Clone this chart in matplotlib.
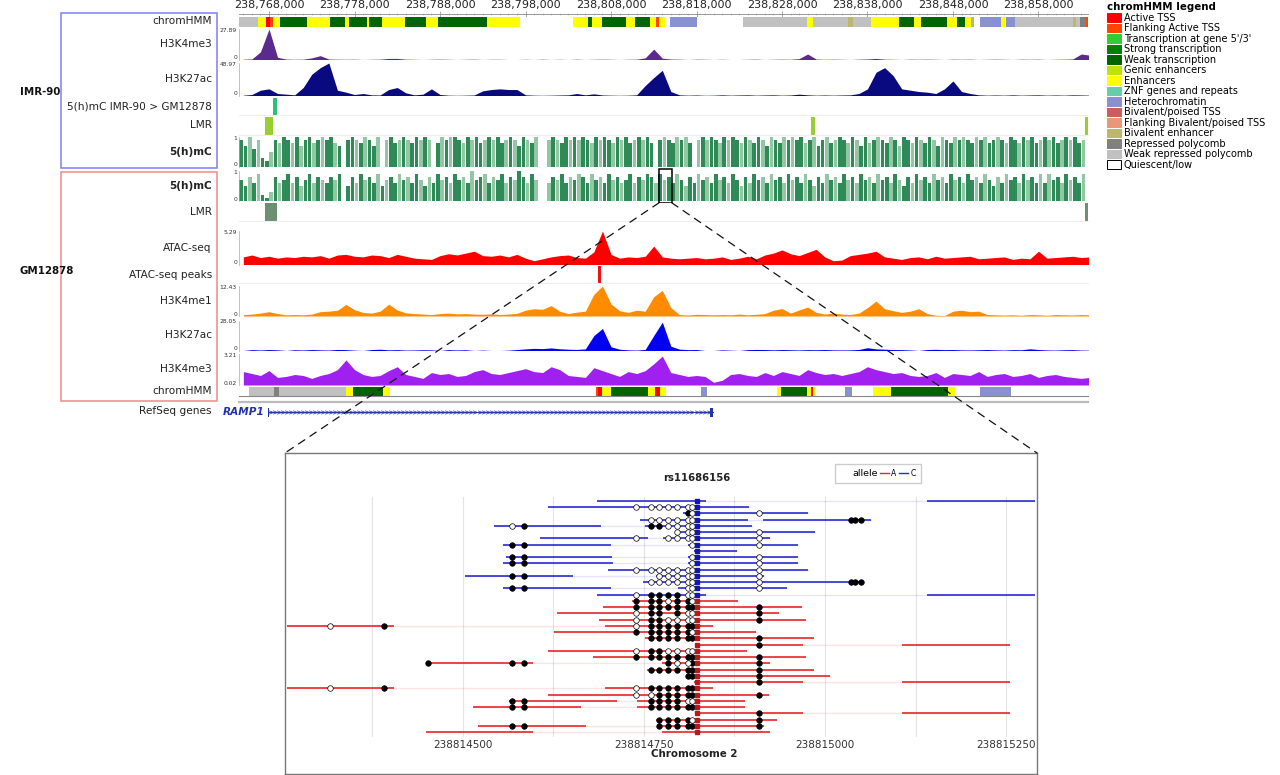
import numpy as np
import matplotlib.pyplot as plt
from matplotlib.patches import Rectangle, Patch, ConnectionPatch
from matplotlib.lines import Line2D
from matplotlib.ticker import FixedLocator, MultipleLocator, FuncFormatter

plt.rcParams['font.family'] = ['DejaVu Sans']

# ---------------- browser region (kb, chr2) ----------------
region = (238764.49, 238863.79)
ruler_ticks = [238768, 238778, 238788, 238798, 238808, 238818, 238828, 238838, 238848, 238858]
zoom_region = (238813.62, 238815.10)

sig_start, sig_step = 238765.0, 1.0      # 1 kb bins for coverage tracks
mc_start, mc_step = 238764.75, 0.5       # 0.5 kb bins for 5(h)mC

imr_k4me3 = [0.3, 0.5, 7.0, 27.89, 2.0, 0.4, 0.2, 0.3, 1.5, 3.5,
             0.4, 0.3, 0.2, 0.3, 0.0, 0.2, 0.3, 1.0, 1.0, 0.3,
             0.2, 0.0, 0.2, 0.3, 0.2, 0.0, 0.2, 0.3, 0.0, 0.2,
             0.2, 0.0, 0.0, 0.2, 0.0, 0.3, 0.0, 0.2, 0.0, 0.3,
             0.0, 0.2, 0.3, 0.2, 0.0, 0.2, 0.3, 1.5, 9.5, 1.2,
             0.4, 0.3, 0.0, 0.3, 0.2, 0.0, 0.2, 0.0, 0.0, 0.2,
             0.3, 0.0, 0.2, 0.3, 0.2, 0.8, 5.0, 0.4, 0.2, 0.3,
             0.2, 0.0, 0.3, 0.5, 1.0, 0.3, 0.2, 0.0, 0.3, 0.2,
             0.3, 0.2, 0.0, 0.3, 0.2, 0.3, 0.0, 0.2, 0.3, 0.2,
             0.0, 0.3, 0.2, 0.3, 0.0, 0.2, 0.3, 0.5, 5.0, 4.0]

imr_k27ac = [0.5, 1.5, 8.0, 10.0, 3.0, 2.0, 1.0, 12.0, 32.0, 42.0,
             48.97, 8.0, 5.0, 1.5, 3.0, 1.0, 0.8, 9.0, 12.0, 4.0,
             1.0, 2.0, 10.0, 1.5, 0.5, 0.3, 0.5, 0.8, 7.0, 9.0,
             10.0, 9.0, 9.0, 1.0, 0.5, 0.3, 0.5, 0.8, 1.0, 3.0,
             1.0, 2.5, 0.8, 0.5, 0.3, 0.5, 1.0, 15.0, 27.0, 38.0,
             6.0, 1.0, 0.5, 0.8, 0.3, 0.5, 1.0, 0.5, 0.8, 1.0,
             0.5, 0.8, 1.0, 0.5, 0.8, 2.0, 1.0, 0.5, 0.8, 0.5,
             0.8, 1.0, 3.0, 10.0, 35.0, 42.0, 30.0, 10.0, 8.0, 6.0,
             5.0, 3.0, 10.0, 22.0, 6.0, 3.0, 1.0, 0.5, 0.8, 0.5,
             1.0, 0.5, 0.8, 1.0, 0.5, 0.8, 0.5, 1.0, 0.8, 0.5]

gm_atac = [1.2, 1.5, 1.1, 1.3, 1.0, 1.2, 1.1, 1.3, 1.2, 1.4,
           1.0, 1.5, 1.6, 1.3, 1.2, 1.5, 1.4, 1.1, 1.6, 1.3,
           1.0, 0.9, 0.8, 1.4, 1.7, 1.5, 1.8, 2.1, 1.4, 1.3,
           1.5, 1.2, 1.6, 1.0, 0.6, 0.9, 1.2, 1.4, 1.5, 1.1,
           1.0, 2.0, 5.29, 1.6, 1.0, 1.2, 1.1, 1.3, 2.9, 1.2,
           1.0, 0.9, 1.0, 1.1, 0.9, 1.0, 1.2, 0.8, 1.0, 1.3,
           0.9, 1.5, 1.8, 2.3, 1.7, 1.4, 1.9, 2.4, 1.2, 0.6,
           0.7, 1.4, 1.6, 1.8, 2.1, 1.2, 1.0, 0.8, 1.1, 1.2,
           0.9, 1.3, 1.0, 1.1, 1.2, 1.3, 0.9, 1.0, 1.1, 1.2,
           0.8, 1.0, 0.9, 2.1, 1.0, 1.1, 1.2, 1.3, 1.1, 1.2]

gm_k4me1 = [0.6, 0.8, 1.2, 1.8, 1.0, 0.5, 0.6, 0.5, 0.8, 1.8,
            2.0, 2.4, 4.8, 2.6, 1.5, 1.2, 2.0, 4.9, 2.5, 1.3,
            1.0, 0.8, 0.6, 1.0, 1.2, 0.9, 1.0, 0.8, 0.7, 0.9,
            0.6, 0.8, 1.1, 2.4, 3.0, 2.8, 4.3, 2.0, 1.0, 1.6,
            2.0, 9.0, 12.43, 5.0, 2.2, 1.5, 2.4, 2.0, 8.0, 10.6,
            3.5, 0.6, 0.4, 0.7, 0.6, 0.5, 0.6, 0.5, 0.8, 0.5,
            0.7, 1.0, 2.4, 3.1, 1.2, 2.5, 3.7, 1.5, 0.8, 1.2,
            0.8, 0.6, 1.2, 3.5, 6.2, 3.0, 2.2, 1.5, 2.0, 3.0,
            1.0, 0.3, 0.2, 2.0, 2.4, 1.8, 2.0, 0.6, 0.5, 0.4,
            0.5, 0.3, 0.6, 0.5, 0.3, 0.6, 0.5, 0.4, 0.6, 0.5]

gm_k27ac = [0.0, 0.8, 0.5, 0.9, 0.6, 0.0, 0.7, 0.5, 0.9, 0.6,
            0.4, 1.0, 0.8, 0.3, 0.0, 0.9, 1.2, 0.6, 0.8, 0.4,
            0.5, 0.7, 0.6, 0.0, 0.8, 0.5, 0.7, 0.0, 0.4, 0.0,
            0.0, 0.3, 0.9, 1.5, 2.0, 1.8, 2.4, 1.6, 1.2, 1.0,
            1.5, 14.0, 20.6, 3.5, 1.2, 0.6, 0.4, 1.0, 14.0, 26.5,
            4.0, 1.3, 0.8, 0.9, 0.0, 0.0, 0.6, 0.3, 0.0, 0.8,
            1.0, 0.9, 0.6, 0.9, 0.7, 0.5, 0.8, 0.7, 0.9, 0.6,
            0.5, 0.6, 1.0, 2.6, 1.5, 1.2, 0.9, 0.8, 0.5, 0.0,
            0.9, 1.1, 0.8, 0.9, 0.6, 0.5, 0.7, 0.9, 0.6, 0.4,
            0.8, 0.7, 1.6, 0.9, 0.5, 0.4, 0.7, 0.8, 0.4, 0.3]

gm_k4me3 = [1.4, 1.2, 1.0, 1.5, 0.8, 0.9, 1.1, 1.0, 0.7, 1.0,
            1.2, 1.6, 2.6, 1.6, 1.1, 0.9, 1.0, 1.5, 1.9, 1.1,
            0.9, 0.7, 1.3, 1.1, 1.2, 0.9, 1.0, 1.4, 1.6, 1.2,
            1.1, 1.3, 1.5, 1.7, 1.4, 1.3, 1.9, 1.6, 1.0, 0.9,
            0.8, 1.8, 1.5, 1.2, 0.9, 1.4, 1.2, 1.5, 2.2, 3.0,
            1.3, 1.1, 0.9, 1.0, 0.9, 0.3, 0.5, 1.1, 1.2, 1.0,
            0.9, 1.3, 1.0, 1.4, 1.2, 1.0, 1.6, 1.3, 1.1, 1.2,
            1.0, 1.2, 1.4, 1.9, 1.6, 1.4, 1.2, 1.3, 1.0, 0.9,
            1.0, 1.3, 0.8, 1.2, 1.1, 1.0, 1.4, 0.9, 1.1, 1.2,
            0.9, 1.0, 1.2, 0.8, 1.0, 1.1, 0.9, 0.8, 0.7, 0.8]

# methylation level in tenths
imr_mc = [9, 7, 10, 6, 9, 3, 2, 5, 9, 8, 10, 9, 8, 10, 7, 9, 10, 8, 9, 10,
          9, 10, 8, 7, 0, 9, 10, 9, 8, 10, 9, 7, 10, 0, 9, 10, 8, 9, 10, 9,
          8, 10, 9, 10, 9, 0, 8, 10, 9, 10, 10, 9, 8, 10, 9, 10, 8, 9, 10, 9,
          10, 8, 9, 10, 9, 7, 10, 9, 8, 10, 0, 0, 9, 10, 9, 8, 10, 9, 10, 9,
          10, 9, 8, 10, 9, 10, 9, 8, 10, 9, 10, 8, 9, 10, 9, 10, 8, 0, 9, 10,
          9, 8, 10, 9, 10, 8, 0, 9, 10, 9, 10, 9, 8, 10, 9, 10, 9, 8, 10, 9,
          8, 10, 9, 7, 10, 9, 8, 10, 9, 10, 9, 10, 8, 9, 10, 7, 9, 10, 8, 9,
          10, 9, 8, 10, 9, 7, 10, 8, 9, 10, 9, 8, 10, 9, 7, 10, 9, 8, 10, 9,
          8, 10, 9, 7, 10, 9, 8, 10, 9, 10, 9, 8, 10, 9, 10, 8, 9, 10, 9, 8,
          10, 9, 8, 10, 9, 10, 8, 9, 10, 9, 10, 8, 9, 10, 9, 10, 8, 9]
gm_mc = [7, 5, 8, 6, 9, 2, 1, 3, 8, 6, 7, 9, 6, 8, 5, 7, 9, 6, 8, 7,
         6, 8, 7, 9, 0, 5, 8, 6, 9, 7, 8, 6, 9, 5, 7, 8, 6, 9, 7, 8,
         6, 9, 7, 5, 8, 6, 9, 7, 8, 6, 9, 7, 8, 6, 10, 7, 8, 9, 6, 8,
         7, 9, 6, 8, 7, 10, 8, 6, 9, 7, 0, 0, 6, 8, 7, 9, 6, 8, 7, 9,
         8, 6, 9, 7, 8, 6, 9, 7, 8, 6, 7, 9, 6, 8, 7, 9, 8, 6, 9, 7,
         8, 6, 9, 7, 5, 8, 6, 9, 7, 8, 6, 9, 7, 8, 6, 9, 7, 5, 8, 6,
         9, 7, 8, 6, 9, 7, 8, 6, 9, 7, 8, 6, 9, 7, 5, 8, 6, 9, 7, 8,
         6, 9, 7, 8, 6, 9, 7, 8, 6, 9, 7, 8, 6, 9, 7, 5, 8, 6, 9, 7,
         8, 6, 9, 7, 8, 6, 9, 7, 8, 6, 9, 7, 8, 6, 9, 7, 5, 8, 6, 9,
         7, 8, 6, 9, 7, 8, 6, 9, 6, 9, 7, 8, 6, 9, 7, 8, 6, 9]

imr_hmm = [(238764.49, 238766.71, 'ReprPCWk'), (238766.71, 238767.65, 'Enh'), (238767.65, 238768.12, 'TssA'),
           (238768.12, 238768.47, 'TssFlnk'), (238768.47, 238769.29, 'Enh'), (238769.29, 238772.44, 'TxWk'),
           (238772.44, 238775.13, 'Enh'), (238775.13, 238776.89, 'TxWk'), (238776.89, 238777.36, 'Enh'),
           (238777.36, 238779.46, 'TxWk'), (238779.46, 238779.70, 'Enh'), (238779.70, 238781.22, 'TxWk'),
           (238781.22, 238783.91, 'Enh'), (238783.91, 238786.36, 'TxWk'), (238786.36, 238787.77, 'Enh'),
           (238787.77, 238793.50, 'TxWk'), (238793.50, 238797.36, 'Enh'), (238803.56, 238805.31, 'Enh'),
           (238805.31, 238805.78, 'TxWk'), (238805.78, 238806.95, 'Enh'), (238806.95, 238809.75, 'TxWk'),
           (238809.75, 238810.81, 'Enh'), (238810.81, 238812.56, 'TxWk'), (238812.56, 238813.26, 'Enh'),
           (238813.26, 238813.61, 'TssFlnk'), (238813.61, 238814.32, 'Enh'), (238814.90, 238818.06, 'Het'),
           (238823.44, 238830.92, 'ReprPCWk'), (238830.92, 238831.63, 'Enh'), (238831.63, 238835.72, 'ReprPCWk'),
           (238835.72, 238836.30, 'EnhBiv'), (238836.30, 238838.41, 'ReprPCWk'), (238838.41, 238841.68, 'Enh'),
           (238841.68, 238843.44, 'TxWk'), (238843.44, 238844.26, 'Enh'), (238844.26, 238847.30, 'TxWk'),
           (238847.30, 238848.47, 'Enh'), (238848.47, 238849.40, 'TxWk'), (238849.40, 238850.10, 'Enh'),
           (238850.10, 238850.46, 'EnhBiv'), (238851.16, 238853.61, 'Het'), (238853.61, 238854.08, 'Enh'),
           (238854.20, 238855.25, 'Het'), (238855.25, 238862.04, 'ReprPCWk'), (238862.04, 238862.39, 'EnhBiv'),
           (238862.39, 238862.86, 'ReprPCWk'), (238862.86, 238863.56, 'ReprPC'), (238863.56, 238863.79, 'TssFlnk')]

gm_hmm = [(238765.66, 238768.58, 'ReprPCWk'), (238768.58, 238769.17, 'ReprPC'), (238769.17, 238777.01, 'ReprPCWk'),
          (238777.01, 238777.82, 'Enh'), (238777.82, 238781.33, 'TxWk'), (238781.33, 238782.15, 'Enh'),
          (238806.25, 238806.48, 'TssFlnk'), (238806.48, 238806.95, 'TssA'), (238806.95, 238808.00, 'Enh'),
          (238808.00, 238812.33, 'TxWk'), (238812.33, 238813.15, 'Enh'), (238813.15, 238813.73, 'TssA'),
          (238813.73, 238814.43, 'Enh'), (238818.53, 238819.23, 'Het'), (238827.42, 238827.88, 'Enh'),
          (238827.88, 238830.92, 'TxWk'), (238830.92, 238831.39, 'Enh'), (238831.39, 238831.63, 'TssA'),
          (238831.63, 238831.98, 'Enh'), (238835.37, 238836.19, 'Het'), (238838.64, 238840.75, 'Enh'),
          (238840.75, 238847.41, 'TxWk'), (238847.41, 238848.24, 'Enh'), (238851.16, 238854.78, 'Het')]

imr_diff = [(238768.47, 238768.99)]
imr_lmr = [(238767.53, 238768.47), (238831.39, 238831.86), (238863.44, 238863.79)]
gm_lmr = [(238767.53, 238768.94), (238863.44, 238863.79)]
atac_peaks = [(238806.48, 238806.83)]
gene_name = 'RAMP1'
gene_span = (238767.88, 238819.93)
gene_exons = [(238767.88, 238768.00), (238785.38, 238785.48), (238819.60, 238819.93)]

hmm_legend = [('TssA', 'Active TSS', '#ff0000'), ('TssFlnk', 'Flanking Active TSS', '#ff4500'),
              ('TxFlnk', "Transcription at gene 5'/3'", '#32cd32'), ('Tx', 'Strong transcription', '#008000'),
              ('TxWk', 'Weak transcription', '#006400'), ('EnhG', 'Genic enhancers', '#c2e105'),
              ('Enh', 'Enhancers', '#ffff00'), ('ZNF', 'ZNF genes and repeats', '#66cdaa'),
              ('Het', 'Heterochromatin', '#8a91d0'), ('TssBiv', 'Bivalent/poised TSS', '#cd5c5c'),
              ('BivFlnk', 'Flanking Bivalent/poised TSS', '#e9967a'), ('EnhBiv', 'Bivalent enhancer', '#bdb76b'),
              ('ReprPC', 'Repressed polycomb', '#808080'), ('ReprPCWk', 'Weak repressed polycomb', '#c0c0c0'),
              ('Quies', 'Quiescent/low', '#ffffff')]
hmm_colors = {code: col for code, _, col in hmm_legend}

# ---------------- zoomed reads at rs11686156 ----------------
snp_name = 'rs11686156'
snp_pos = 238814823
detail_range = (238814257, 238815290)
detail_major = [238814500, 238814750, 238815000, 238815250]
detail_minor = [238814375, 238814625, 238814875, 238815125]
cpg_pos = [238814316, 238814391, 238814452, 238814568, 238814584, 238814739, 238814760, 238814771,
           238814783, 238814796, 238814811, 238814816, 238814909, 238815036, 238815041, 238815050]
read_allele = ['C'] * 16 + ['A'] * 22
read_segs = [
    [(238814685, 238814836), (238815141, 238815290)],
    [(238814617, 238814895)],
    [(238814804, 238814976)],
    [(238814744, 238814894), (238814914, 238815063)],
    [(238814543, 238814691), (238814751, 238814899)],
    [(238814793, 238814986)],
    [(238814606, 238814756), (238814776, 238814924)],
    [(238814555, 238814704), (238814811, 238814963)],
    [(238814819, 238814878)],
    [(238814559, 238814706), (238814811, 238814963)],
    [(238814555, 238814707), (238814811, 238814963)],
    [(238814700, 238814976)],
    [(238814503, 238814652), (238814767, 238814916)],
    [(238814749, 238815051)],
    [(238814555, 238814704), (238814797, 238814947)],
    [(238814685, 238814836), (238815141, 238815290)],
    [(238814733, 238814880)],
    [(238814693, 238814968)],
    [(238814630, 238814936)],
    [(238814688, 238814974)],
    [(238814240, 238814405), (238814696, 238814845)],
    [(238814626, 238814905)],
    [(238814751, 238814985)],
    [(238814822, 238814970), (238815106, 238815255)],
    [(238814617, 238814892)],
    [(238814680, 238814974)],
    [(238814449, 238814597), (238814775, 238814924)],
    [(238814754, 238814985)],
    [(238814808, 238815007)],
    [(238814819, 238814970), (238815106, 238815255)],
    [(238814240, 238814405), (238814696, 238814845)],
    [(238814617, 238814923)],
    [(238814564, 238814713), (238814740, 238814889)],
    [(238814514, 238814663), (238814740, 238814889)],
    [(238814822, 238814970), (238815106, 238815255)],
    [(238814767, 238814934)],
    [(238814521, 238814670), (238814768, 238814916)],
    [(238814449, 238814597), (238814775, 238814924)],
]
# one char per CpG in cpg_pos: M methylated, U unmethylated, . not covered
read_meth = [
    '................', '.....UUUUUUU....', '..........MUU...', '......UUUUUU.MMM',
    '...UM.MMUUUU....', '.........UUUU...', '.....U..UUUUU...', '...MM......UU...',
    '................', '...MM......UU...', '...MM......UU...', '.....UUUUUUUU...',
    '...MM..UUUUUU...', '......UUUUUUUMMM', '...MM.....UUU...', '.....UMMMMUU....',
    '.....MMMUMMU....', '.....MMMMMMMM...', '.....UMM.MUUM...', '.....UMMUUUUM...',
    'UM...UMMMMMM....', '.....MMMMMMU....', '......MMMMMMM...', '............M...',
    '.....UMMUUUU....', '.....MMMMMMMM...', '..MMM...MUUMM...', '......MMMMMMM...',
    '..........MMM...', '............M...', 'UM...UMMMMMM....', '.....UUMMMMMM...',
    '...MM.MMMMUU....', '...MM.MMMMMM....', '............M...', '.......MMMMUM...',
    '...MM..MMMMMM...', '................',
]
allele_line = {'A': '#e8262a', 'C': '#2b2bd0'}
allele_snp = {'A': '#b51a1a', 'C': '#1414b0'}

# ---------------- figure ----------------
W, H = 1280, 775
fig = plt.figure(figsize=(W / 100, H / 100), dpi=100)


def px_axes(x0, y0, x1, y1):
    return fig.add_axes([x0 / W, 1 - y1 / H, (x1 - x0) / W, (y1 - y0) / H])


def track(y0, y1, label=None, bold=False):
    ax = px_axes(239, y0, 1088, y1)
    ax.set_xlim(*region)
    ax.set_xticks([])
    ax.set_yticks([])
    for s in ax.spines.values():
        s.set_visible(False)
    if label:
        ax.annotate(label, xy=(0, 0.5), xycoords='axes fraction', xytext=(-19.5, 0),
                    textcoords='offset points', ha='right', va='center', fontsize=7.6,
                    fontweight='bold' if bold else 'normal', color='#222222')
    return ax


def range_labels(ax, hi, lo):
    ax.spines['left'].set_visible(True)
    ax.spines['left'].set_color('#aaaaaa')
    ax.spines['left'].set_linewidth(0.5)
    ax.text(-0.0025, 0.96, hi, transform=ax.transAxes, ha='right', va='center', fontsize=4.3, color='#333333')
    ax.text(-0.0025, 0.06, lo, transform=ax.transAxes, ha='right', va='center', fontsize=4.3, color='#333333')


def signal(ax, vals, color, top, bottom=0.0, lo_lbl='0'):
    x = sig_start + sig_step * np.arange(len(vals))
    ax.fill_between(x, bottom, np.maximum(vals, bottom), color=color, lw=0)
    ax.set_ylim(bottom, top)
    range_labels(ax, f'{top:.2f}', lo_lbl)


def methyl(ax, vals):
    x = mc_start + mc_step * np.arange(len(vals))
    shades = ['#2e8b57', '#2e8b57', '#93c7a3', '#2e8b57', '#93c7a3']
    cols = [shades[i % len(shades)] for i in range(len(vals))]
    ax.bar(x, np.array(vals) / 10, width=0.42, color=cols, lw=0)
    ax.set_ylim(0, 1)
    range_labels(ax, '1', '0')


def hmm(ax, segs):
    s = np.array([a for a, _, _ in segs])
    e = np.array([b for _, b, _ in segs])
    ax.barh(0.5, e - s, left=s, height=1, color=[hmm_colors[c] for _, _, c in segs], lw=0)
    ax.set_ylim(0, 1)


def features(ax, segs, color):
    s = np.array([a for a, _ in segs])
    e = np.array([b for _, b in segs])
    ax.barh(0.5, e - s, left=s, height=1, color=color, lw=0)
    ax.set_ylim(0, 1)
    ax.spines['bottom'].set_visible(True)
    ax.spines['bottom'].set_color('#eeeeee')


# ruler
ax_r = px_axes(239, 14, 1088, 15)
ax_r.set_xlim(*region)
ax_r.set_yticks([])
for s in ['left', 'right', 'bottom']:
    ax_r.spines[s].set_visible(False)
ax_r.spines['top'].set_color('#888888')
ax_r.spines['top'].set_linewidth(0.6)
ax_r.xaxis.tick_top()
ax_r.xaxis.set_major_locator(FixedLocator(ruler_ticks))
ax_r.xaxis.set_minor_locator(MultipleLocator(1))
ax_r.xaxis.set_major_formatter(FuncFormatter(lambda v, p: f'{int(round(v * 1000)):,}'))
ax_r.tick_params(axis='x', which='major', direction='inout', length=4, width=0.5, color='#888888',
                 labelsize=8, pad=1, labelcolor='#222222')
ax_r.tick_params(axis='x', which='minor', direction='inout', length=2, width=0.4, color='#aaaaaa')

# IMR-90 tracks
hmm(track(16.5, 26.5, 'chromHMM'), imr_hmm)
signal(track(29, 59.5, 'H3K4me3'), imr_k4me3, '#5a2a8e', 27.89)
signal(track(63, 95.5, 'H3K27ac'), imr_k27ac, '#0a0a80', 48.97)
features(track(98, 115, '5(h)mC IMR-90 > GM12878'), imr_diff, '#2fbf7b')
features(track(116.5, 134.5, 'LMR'), imr_lmr, '#9acd32')
methyl(track(137, 166.5, '5(h)mC', bold=True), imr_mc)

# GM12878 tracks
ax_gm_mc = track(171.5, 201, '5(h)mC', bold=True)
methyl(ax_gm_mc, gm_mc)
features(track(203, 221, 'LMR'), gm_lmr, '#6e8f72')
signal(track(231, 264.5, 'ATAC-seq'), gm_atac, '#ff0000', 5.29)
features(track(266.5, 283.5, 'ATAC-seq peaks'), atac_peaks, '#ee1111')
signal(track(286, 316, 'H3K4me1'), gm_k4me1, '#ff8c00', 12.43)
signal(track(320.5, 350.5, 'H3K27ac'), gm_k27ac, '#0000ee', 28.05)
signal(track(354, 385, 'H3K4me3'), gm_k4me3, '#a020f0', 3.21, bottom=0.02, lo_lbl='0.02')
ax_gm_hmm = track(386.5, 396, 'chromHMM')
hmm(ax_gm_hmm, gm_hmm)
ax_gm_hmm.spines['bottom'].set_visible(True)
ax_gm_hmm.spines['bottom'].set_color('#888888')

# RefSeq genes
ax_g = track(402, 421, 'RefSeq genes')
ax_g.set_ylim(-1, 1)
ax_g.spines['top'].set_visible(True)
ax_g.spines['top'].set_color('#bbbbbb')
ax_g.spines['top'].set_linewidth(1.6)
gcol = '#2233aa'
ax_g.plot(gene_span, [-0.1, -0.1], color=gcol, lw=0.7)
chev = np.arange(gene_span[0] + 0.3, gene_span[1] - 0.3, 0.47)
ax_g.plot(chev, np.full(len(chev), -0.1), ls='none', marker='$>$', ms=3.2, color=gcol, mew=0.1)
for s, e in gene_exons:
    ax_g.barh(-0.1, e - s, left=s, height=0.9, color=gcol, lw=0)
ax_g.text(gene_span[0] - 0.45, -0.1, gene_name, ha='right', va='center', fontsize=7.6,
          style='italic', fontweight='bold', color=gcol)

# cell line boxes
for (y0, y1, ec, name, ly) in [(12.7, 167.7, '#7d7dff', 'IMR-90', 91.7), (171.7, 400.7, '#f08a8a', 'GM12878', 271)]:
    fig.add_artist(Rectangle((61 / W, 1 - y1 / H), (217 - 61) / W, (y1 - y0) / H, fill=False,
                             ec=ec, lw=1.1, transform=fig.transFigure))
    fig.text(20 / W, 1 - ly / H, name, ha='left', va='center', fontsize=7.4, fontweight='bold', color='#111111')

# chromHMM legend
handles = [Patch(facecolor=c, edgecolor='black' if code == 'Quies' else c, lw=0.7) for code, _, c in hmm_legend]
leg = fig.legend(handles, [lab for _, lab, _ in hmm_legend], loc='upper left',
                 bbox_to_anchor=(1105 / W, 1 - 0.5 / H), frameon=False, fontsize=7,
                 title='chromHMM legend', title_fontproperties={'weight': 'bold', 'size': 7.4},
                 alignment='left', handlelength=1.45, handleheight=0.95, handletextpad=0.3,
                 labelspacing=0.05, borderpad=0.2, borderaxespad=0)

# ---------------- detail panel ----------------
ax_box = px_axes(285, 453, 1037, 774)
ax_box.set_xticks([])
ax_box.set_yticks([])
for s in ax_box.spines.values():
    s.set_color('#777777')
    s.set_linewidth(1.0)

ax_d = px_axes(287, 497, 1035, 737)
ax_d.set_xlim(*detail_range)
ax_d.set_ylim(37.8, -0.6)
for s in ax_d.spines.values():
    s.set_visible(False)
ax_d.set_yticks([])
ax_d.set_xticks(detail_major)
ax_d.set_xticks(detail_minor, minor=True)
ax_d.set_xticklabels([str(v) for v in detail_major])
ax_d.tick_params(axis='x', which='both', length=0, pad=2, labelsize=7.5, labelcolor='#333333')
ax_d.grid(True, which='both', axis='x', color='#e4e4e4', lw=0.8)
ax_d.set_axisbelow(True)

for k, (segs, meth, al) in enumerate(zip(read_segs, read_meth, read_allele)):
    col = allele_line[al]
    lo = min(s for s, _ in segs)
    hi = max(e for _, e in segs)
    ax_d.plot([lo, hi], [k, k], color=col, alpha=0.12, lw=1.0)
    for s, e in segs:
        ax_d.plot([s, e], [k, k], color=col, alpha=0.85, lw=1.4, solid_capstyle='butt')
    xm = [p for p, c in zip(cpg_pos, meth) if c == 'M']
    xu = [p for p, c in zip(cpg_pos, meth) if c == 'U']
    ax_d.plot(xm, [k] * len(xm), 'o', ms=4.0, mfc='black', mec='black', mew=0.5, zorder=4)
    ax_d.plot(xu, [k] * len(xu), 'o', ms=4.0, mfc='white', mec='black', mew=0.5, zorder=4)
    ax_d.plot([snp_pos], [k], 's', ms=3.3, color=allele_snp[al], zorder=5)

ax_d.text(snp_pos, -3.6, snp_name, ha='center', va='center', fontsize=7.2, fontweight='bold',
          color='#222222', clip_on=False)
ax_d.set_xlabel('Chromosome 2', fontsize=7.4, fontweight='bold', color='#222222')
ax_d.xaxis.set_label_coords(0.545, -0.052)

lh = [Line2D([], [], color='none'), Line2D([], [], color=allele_line['A'], lw=1),
      Line2D([], [], color=allele_line['C'], lw=1)]
aleg = ax_d.legend(lh, ['allele', 'A', 'C'], ncol=3, loc='center',
                   bbox_to_anchor=(878 / W, 1 - 473.5 / H), bbox_transform=fig.transFigure,
                   fontsize=5.5, handlelength=1.2, handletextpad=0.3, columnspacing=0.3,
                   borderpad=0.7, fancybox=False, edgecolor='#cccccc', framealpha=1)
aleg.get_texts()[0].set_fontsize(6.8)
aleg.get_frame().set_linewidth(1.0)

# zoom box and dashed connectors
ax_gm_mc.add_patch(Rectangle((zoom_region[0], -0.06), zoom_region[1] - zoom_region[0], 1.16,
                             fill=False, ec='black', lw=1.1, clip_on=False, zorder=6))
for xa, xb in [(zoom_region[0], 0), (zoom_region[1], 1)]:
    fig.add_artist(ConnectionPatch(xyA=(xa, -0.06), coordsA=ax_gm_mc.transData,
                                   xyB=(xb, 1), coordsB=ax_box.transAxes,
                                   color='#111111', lw=0.9, ls=(0, (6, 5)), zorder=10))

fig.savefig('out.png', dpi=100)
